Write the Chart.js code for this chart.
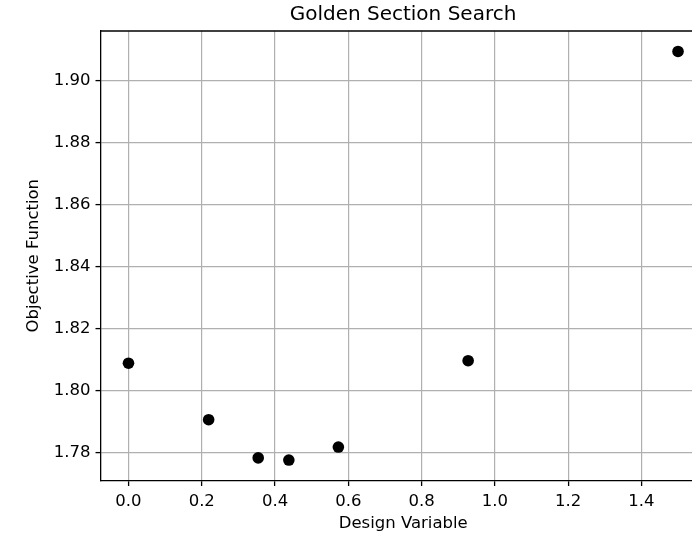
<!DOCTYPE html>
<html>
<head>
<meta charset="utf-8">
<script src="https://cdn.jsdelivr.net/npm/chart.js@4.4.1/dist/chart.umd.min.js"></script>
<style>
html, body { margin: 0; padding: 0; background: #fff; overflow: hidden; }
#wrap { width: 806px; height: 538px; }
</style>
</head>
<body>
<div id="wrap"><canvas id="gss" width="806" height="538"></canvas></div>
<script>
// golden section evaluations (x, f(x))
const designVar = [0.0, 1.5, 0.5729, 0.9271, 0.3541, 0.2188, 0.4377];
const objective = [1.8089, 1.9093, 1.7819, 1.8097, 1.7784, 1.7907, 1.7777];
const xTicks = [0.0, 0.2, 0.4, 0.6, 0.8, 1.0, 1.2, 1.4];
const yTicks = [1.78, 1.80, 1.82, 1.84, 1.86, 1.88, 1.90];

// matplotlib-style 5% margins
function padRange(vals) {
    const lo = Math.min(...vals), hi = Math.max(...vals);
    const m = (hi - lo) * 0.05;
    return [lo - m, hi + m];
}
const [xMin, xMax] = padRange(designVar);
const [yMin, yMax] = padRange(objective);

const points = designVar.map((x, i) => ({x: x, y: objective[i]}));

const font = "'DejaVu Sans', sans-serif";

// top spine
const topSpine = {
    id: 'topSpine',
    afterDraw(chart) {
        const {ctx, chartArea} = chart;
        ctx.save();
        ctx.strokeStyle = '#000';
        ctx.lineWidth = 1.3;
        ctx.beginPath();
        ctx.moveTo(chartArea.left, chartArea.top);
        ctx.lineTo(chartArea.right, chartArea.top);
        ctx.stroke();
        ctx.restore();
    }
};

new Chart(document.getElementById('gss').getContext('2d'), {
    type: 'scatter',
    data: {
        datasets: [{
            data: points,
            backgroundColor: '#000',
            borderWidth: 0,
            pointRadius: 5.8,
            pointHoverRadius: 5.8
        }]
    },
    options: {
        responsive: false,
        animation: false,
        devicePixelRatio: 1,
        layout: { padding: 0 },
        plugins: {
            legend: { display: false },
            tooltip: { enabled: false },
            title: {
                display: true,
                text: 'Golden Section Search',
                color: '#000',
                font: { family: font, size: 20, weight: 'normal' },
                padding: { top: 3, bottom: 4 }
            }
        },
        scales: {
            x: {
                type: 'linear',
                min: xMin,
                max: xMax,
                afterBuildTicks: (s) => { s.ticks = xTicks.map(v => ({value: v})); },
                afterFit: (s) => { s.height = 57.5; },
                grid: { color: '#b0b0b0', lineWidth: 1.2, tickColor: '#000', tickLength: 5.5, tickWidth: 1.3 },
                border: { color: '#000', width: 1.3 },
                ticks: {
                    color: '#000',
                    font: { family: font, size: 16.5 },
                    padding: 6,
                    maxRotation: 0,
                    callback: (v) => v.toFixed(1)
                },
                title: {
                    display: true,
                    text: 'Design Variable',
                    color: '#000',
                    font: { family: font, size: 16.5 },
                    padding: { top: 0, bottom: 4 }
                }
            },
            y: {
                type: 'linear',
                min: yMin,
                max: yMax,
                afterBuildTicks: (s) => { s.ticks = yTicks.map(v => ({value: v})); },
                afterFit: (s) => { s.width = 101; },
                grid: { color: '#b0b0b0', lineWidth: 1.2, tickColor: '#000', tickLength: 5.5, tickWidth: 1.3 },
                border: { color: '#000', width: 1.3 },
                ticks: {
                    color: '#000',
                    font: { family: font, size: 16.5 },
                    padding: 5,
                    callback: (v) => v.toFixed(2)
                },
                title: {
                    display: true,
                    text: 'Objective Function',
                    color: '#000',
                    font: { family: font, size: 16.5 },
                    padding: { top: 24, bottom: 0 }
                }
            },
            // empty right-hand box so the plot runs past the window edge
            yPad: {
                type: 'linear',
                position: 'right',
                display: true,
                afterFit: (s) => { s.width = 100.5; },
                grid: { display: false },
                border: { display: false },
                ticks: { display: false }
            }
        }
    },
    plugins: [topSpine]
});
</script>
</body>
</html>
